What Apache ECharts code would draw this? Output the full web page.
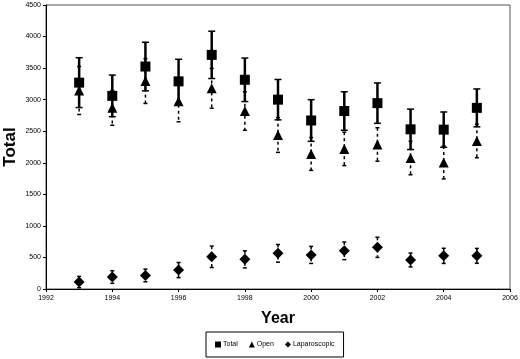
<!DOCTYPE html>
<html>
<head>
<meta charset="utf-8">
<script src="https://cdn.jsdelivr.net/npm/echarts@6/dist/echarts.min.js"></script>
<style>
  html, body { margin: 0; padding: 0; background: #fff; }
  #chart { width: 520px; height: 359px; }
</style>
</head>
<body>
<div id="chart"></div>
<script>
// data
const years = [1993, 1994, 1995, 1996, 1997, 1998, 1999, 2000, 2001, 2002, 2003, 2004, 2005]
const totalVals = [3270, 3060, 3525, 3290, 3710, 3315, 3000, 2670, 2820, 2945, 2530, 2525, 2870]
const totalErr = [395, 330, 385, 350, 375, 345, 320, 330, 305, 320, 320, 280, 300]
const openVals = [3145, 2870, 3295, 2975, 3180, 2820, 2440, 2140, 2220, 2290, 2075, 2005, 2345]
const openErr = [380, 275, 355, 325, 315, 305, 275, 260, 265, 265, 265, 260, 265]
const lapVals = [110, 190, 215, 300, 510, 470, 565, 540, 605, 660, 460, 525, 525]
const lapErr = [90, 100, 100, 120, 170, 135, 140, 135, 140, 160, 110, 120, 118]
const yTicks = { min: 0, max: 4500, interval: 500 }
const xTicks = { min: 1992, max: 2006, interval: 2 }

const chart = echarts.init(document.getElementById('chart'))

const toPoints = vals => years.map((y, i) => [y, vals[i]])
const toErr = (vals, err) => years.map((y, i) => [y, vals[i] - err[i], vals[i] + err[i]])

// error bar drawn through the axes
const errorBar = (lineWidth, dash, capW) => (params, api) => {
  const x = api.value(0)
  const top = api.coord([x, api.value(2)])
  const bot = api.coord([x, api.value(1)])
  const style = { stroke: '#000', lineWidth: lineWidth, lineDash: dash }
  return {
    type: 'group',
    children: [
      { type: 'line', shape: { x1: top[0], y1: top[1], x2: bot[0], y2: bot[1] }, style: style },
      { type: 'line', shape: { x1: top[0] - capW, y1: top[1], x2: top[0] + capW, y2: top[1] }, style: { stroke: '#000', lineWidth: 1.5 } },
      { type: 'line', shape: { x1: bot[0] - capW, y1: bot[1], x2: bot[0] + capW, y2: bot[1] }, style: { stroke: '#000', lineWidth: 1.5 } }
    ]
  }
}

const labelFont = { fontFamily: 'Liberation Sans', fontSize: 7, color: '#000', formatter: v => String(v) }

const option = {
  backgroundColor: '#fff',
  animation: false,
  grid: {
    left: 46,
    right: 10,
    top: 5,
    bottom: 70,
    outerBoundsMode: 'none',
    show: true,
    borderColor: '#555',
    borderWidth: 1
  },
  legend: {
    data: ['Total', 'Open', 'Laparoscopic'],
    bottom: 2,
    left: 206,
    borderColor: '#000',
    borderWidth: 1,
    padding: [9, 9],
    itemWidth: 6,
    itemHeight: 6,
    itemGap: 11,
    textStyle: { fontFamily: 'Liberation Sans', fontSize: 7, color: '#000', padding: [0, 0, 0, -3] }
  },
  xAxis: {
    type: 'value',
    min: xTicks.min,
    max: xTicks.max,
    interval: xTicks.interval,
    name: 'Year',
    nameLocation: 'middle',
    nameGap: 22,
    nameMoveOverlap: false,
    nameTextStyle: { fontFamily: 'Liberation Sans', fontSize: 16, fontWeight: 'bold', color: '#000' },
    splitLine: { show: false },
    axisLine: { lineStyle: { color: '#000' } },
    axisTick: { inside: false, length: 3, lineStyle: { color: '#000' } },
    axisLabel: Object.assign({ margin: 6 }, labelFont)
  },
  yAxis: {
    type: 'value',
    min: yTicks.min,
    max: yTicks.max,
    interval: yTicks.interval,
    name: 'Total',
    nameLocation: 'middle',
    nameGap: 27,
    nameMoveOverlap: false,
    nameTextStyle: { fontFamily: 'Liberation Sans', fontSize: 17, fontWeight: 'bold', color: '#000' },
    splitLine: { show: false },
    axisLine: { lineStyle: { color: '#000' } },
    axisTick: { inside: false, length: 3, lineStyle: { color: '#000' } },
    axisLabel: Object.assign({ margin: 5 }, labelFont)
  },
  series: [
    {
      type: 'custom',
      name: 'openErr',
      renderItem: errorBar(1.5, [3, 3], 2),
      data: toErr(openVals, openErr),
      z: 1
    },
    {
      type: 'custom',
      name: 'lapErr',
      renderItem: errorBar(1.5, [3, 3], 2),
      data: toErr(lapVals, lapErr),
      z: 1
    },
    {
      type: 'custom',
      name: 'totalErr',
      renderItem: errorBar(2.5, null, 3.5),
      data: toErr(totalVals, totalErr),
      z: 2
    },
    {
      type: 'scatter',
      name: 'Total',
      symbol: 'rect',
      symbolSize: 10,
      itemStyle: { color: '#000', opacity: 1 },
      data: toPoints(totalVals),
      z: 5
    },
    {
      type: 'scatter',
      name: 'Open',
      symbol: 'triangle',
      symbolSize: 10,
      itemStyle: { color: '#000', opacity: 1 },
      data: toPoints(openVals),
      z: 4
    },
    {
      type: 'scatter',
      name: 'Laparoscopic',
      symbol: 'diamond',
      symbolSize: 11,
      itemStyle: { color: '#000', opacity: 1 },
      data: toPoints(lapVals),
      z: 4
    }
  ]
}

chart.setOption(option)
</script>
</body>
</html>
